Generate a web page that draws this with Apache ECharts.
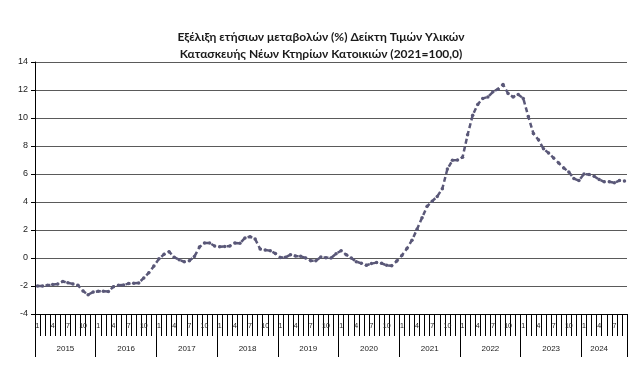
<!DOCTYPE html>
<html>
<head>
<meta charset="utf-8">
<script src="https://cdn.jsdelivr.net/npm/echarts@6/dist/echarts.min.js"></script>
<style>html,body{margin:0;padding:0;background:#fff;}#c{width:642px;height:371px;}</style>
</head>
<body>
<div id="c"></div>
<script>
const titleLines = ["Εξέλιξη ετήσιων μεταβολών (%) Δείκτη Τιμών Υλικών", "Κατασκευής Νέων Κτηρίων Κατοικιών (2021=100,0)"];
const years = [2015, 2016, 2017, 2018, 2019, 2020, 2021, 2022, 2023, 2024];
const shownMonths = [1, 4, 7, 10];
const v2015 = [-2.0, -2.0, -1.95, -1.9, -1.85, -1.67, -1.77, -1.85, -1.95, -2.36, -2.62, -2.43];
const v2016 = [-2.38, -2.38, -2.4, -2.05, -1.95, -1.92, -1.83, -1.8, -1.78, -1.42, -1.05, -0.58];
const v2017 = [-0.06, 0.26, 0.45, 0.06, -0.12, -0.27, -0.19, 0.1, 0.78, 1.08, 1.07, 0.86];
const v2018 = [0.81, 0.83, 0.86, 1.07, 1.05, 1.43, 1.52, 1.36, 0.64, 0.57, 0.52, 0.33];
const v2019 = [0.03, 0.05, 0.24, 0.14, 0.12, 0.0, -0.19, -0.19, 0.07, 0.02, 0.0, 0.31];
const v2020 = [0.52, 0.24, 0.0, -0.26, -0.38, -0.52, -0.4, -0.33, -0.38, -0.52, -0.55, -0.22];
const v2021 = [0.18, 0.67, 1.27, 2.05, 2.88, 3.69, 4.06, 4.4, 4.95, 6.35, 6.98, 7.0];
const v2022 = [7.2, 8.8, 10.2, 10.97, 11.4, 11.5, 11.87, 12.06, 12.39, 11.75, 11.5, 11.68];
const v2023 = [11.4, 10.1, 8.9, 8.44, 7.8, 7.5, 7.14, 6.79, 6.43, 6.15, 5.67, 5.53];
const v2024 = [6.0, 5.96, 5.84, 5.6, 5.44, 5.44, 5.37, 5.53, 5.5];
const yTicks = {min: -4, max: 14, step: 2};

const yearValues = [v2015, v2016, v2017, v2018, v2019, v2020, v2021, v2022, v2023, v2024];
const categories = [];
const values = [];
yearValues.forEach((arr, yi) => {
  arr.forEach((v, mi) => {
    categories.push(years[yi] + '-' + (mi + 1));
    values.push(v);
  });
});

const chart = echarts.init(document.getElementById('c'), null, {renderer: 'canvas'});
chart.setOption({
  animation: false,
  backgroundColor: '#fff',
  title: {
    text: titleLines.join('\n'),
    left: 'center',
    top: 24,
    textStyle: {fontFamily: 'Lato', fontWeight: 'bold', fontSize: 12, lineHeight: 17, color: '#1a1a1a'}
  },
  grid: {left: 35, right: 15, top: 62, bottom: 57, containLabel: false},
  xAxis: [
    {
      type: 'category',
      data: categories,
      boundaryGap: true,
      position: 'bottom',
      axisLine: {show: true, onZero: false, lineStyle: {color: '#000', width: 1}},
      axisTick: {show: true, interval: 0, length: 22, lineStyle: {color: '#000', width: 1}},
      axisLabel: {
        interval: 0,
        margin: 9,
        fontFamily: 'Liberation Sans',
        fontSize: 7,
        color: '#222',
        formatter: function (val) {
          const m = +val.split('-')[1];
          return shownMonths.indexOf(m) >= 0 ? String(m) : '';
        }
      },
      splitLine: {show: false}
    },
    {
      type: 'category',
      data: categories,
      boundaryGap: true,
      position: 'bottom',
      offset: 0,
      axisLine: {show: false, onZero: false},
      axisTick: {
        show: true,
        length: 43,
        lineStyle: {color: '#000', width: 1},
        interval: function (index) { return index % 12 === 0; }
      },
      axisLabel: {
        interval: 0,
        margin: 31,
        fontFamily: 'Liberation Sans',
        fontSize: 8,
        color: '#222',
        formatter: function (val) {
          const parts = val.split('-');
          const y = +parts[0], m = +parts[1];
          const count = yearValues[years.indexOf(y)].length;
          if (count === 12 && m === 7) return '{a|' + y + '}';
          if (count < 12 && m === Math.ceil(count / 2) - 1) return '{b|' + y + '}';
          return '';
        },
        rich: {
          a: {fontFamily: 'Liberation Sans', fontSize: 8, color: '#222', padding: [0, 5, 0, 0]},
          b: {fontFamily: 'Liberation Sans', fontSize: 8, color: '#222'}
        }
      },
      splitLine: {show: false}
    }
  ],
  yAxis: {
    type: 'value',
    min: yTicks.min,
    max: yTicks.max,
    interval: yTicks.step,
    axisLine: {show: true, lineStyle: {color: '#000', width: 1}},
    axisTick: {show: true, length: 4, lineStyle: {color: '#000'}},
    axisLabel: {fontFamily: 'Liberation Sans', fontSize: 9, color: '#222', margin: 7},
    splitLine: {show: true, lineStyle: {color: '#5a5a5a', width: 1}}
  },
  series: [{
    type: 'line',
    xAxisIndex: 0,
    data: values,
    symbol: 'circle',
    symbolSize: 3.5,
    showSymbol: true,
    itemStyle: {color: '#5a5878'},
    lineStyle: {color: '#5a5878', width: 2.5, type: [5, 3]}
  }]
});
</script>
</body>
</html>
